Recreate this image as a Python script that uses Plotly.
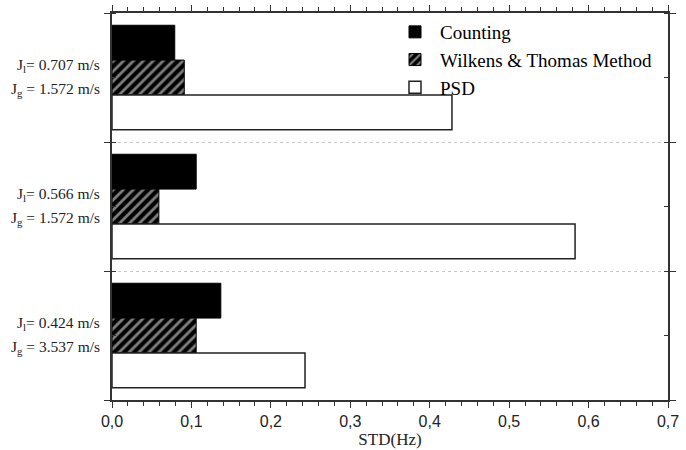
import plotly.graph_objects as go

# Groups, listed top to bottom
jl_labels = ["0.707", "0.566", "0.424"]
jg_labels = ["1.572", "1.572", "3.537"]

counting = [0.079, 0.106, 0.137]
wilkens = [0.091, 0.059, 0.106]
psd = [0.428, 0.583, 0.243]

x_ticks = [0.0, 0.1, 0.2, 0.3, 0.4, 0.5, 0.6, 0.7]
x_ticktext = ["0,0", "0,1", "0,2", "0,3", "0,4", "0,5", "0,6", "0,7"]

pos = list(range(len(jl_labels)))

serif = "Liberation Serif, Times New Roman, serif"
sans = "Liberation Sans, Arial, sans-serif"

fig = go.Figure()
fig.add_trace(go.Bar(
    y=pos, x=counting, orientation="h", name="Counting",
    marker=dict(color="black", line=dict(color="black", width=1)),
))
fig.add_trace(go.Bar(
    y=pos, x=wilkens, orientation="h", name="Wilkens & Thomas Method",
    marker=dict(color="black", line=dict(color="black", width=1),
                pattern=dict(shape="/", fgcolor="white", bgcolor="black",
                             size=7, solidity=0.4)),
))
fig.add_trace(go.Bar(
    y=pos, x=psd, orientation="h", name="PSD",
    marker=dict(color="white", line=dict(color="#222222", width=1.5)),
))

annotations = []
for i, (jl, jg) in enumerate(zip(jl_labels, jg_labels)):
    annotations.append(dict(
        x=-0.018, xref="paper", y=i, yref="y", xanchor="right", yanchor="middle",
        text="J<sub>l</sub>= " + jl + " m/s", showarrow=False, yshift=12,
        font=dict(family=serif, size=15.5, color="#222222"),
    ))
    annotations.append(dict(
        x=-0.018, xref="paper", y=i, yref="y", xanchor="right", yanchor="middle",
        text="J<sub>g</sub> = " + jg + " m/s", showarrow=False, yshift=-12,
        font=dict(family=serif, size=15.5, color="#222222"),
    ))

fig.update_layout(
    width=686, height=450,
    margin=dict(l=112, r=18, t=13, b=50),
    paper_bgcolor="white", plot_bgcolor="white",
    barmode="group", bargap=0.19, bargroupgap=0,
    showlegend=True,
    legend=dict(x=0.5, y=1.0, xanchor="left", yanchor="top",
                bgcolor="rgba(0,0,0,0)", font=dict(family=serif, size=19, color="black"),
                itemwidth=40, tracegroupgap=0),
    annotations=annotations,
    xaxis=dict(
        automargin=False,
        range=[0, 0.7], tickvals=x_ticks, ticktext=x_ticktext,
        tickfont=dict(family=sans, size=16, color="#222222"),
        title=dict(text="STD(Hz)", font=dict(family=serif, size=17, color="#222222"), standoff=4),
        showline=True, linecolor="#333333", linewidth=1.5, mirror="ticks",
        ticks="outside", ticklen=6, tickcolor="#333333", tickwidth=1.2,
        minor=dict(dtick=0.02, ticks="outside", ticklen=4, tickcolor="#333333", showgrid=False),
        showgrid=False, zeroline=False,
    ),
    yaxis=dict(
        automargin=False,
        range=[2.5, -0.5], tickvals=[-0.5, 0.5, 1.5, 2.5], showticklabels=False,
        showline=True, linecolor="#333333", linewidth=1.5, mirror="ticks",
        ticks="outside", ticklen=6, tickcolor="#333333", tickwidth=1.2,
        minor=dict(dtick=0.5, tick0=0, ticks="inside", ticklen=4, tickcolor="#333333", showgrid=False),
        showgrid=True, gridcolor="#c8c8c8", griddash="dot", gridwidth=1,
        zeroline=False,
    ),
)

fig.write_html("out.html")
